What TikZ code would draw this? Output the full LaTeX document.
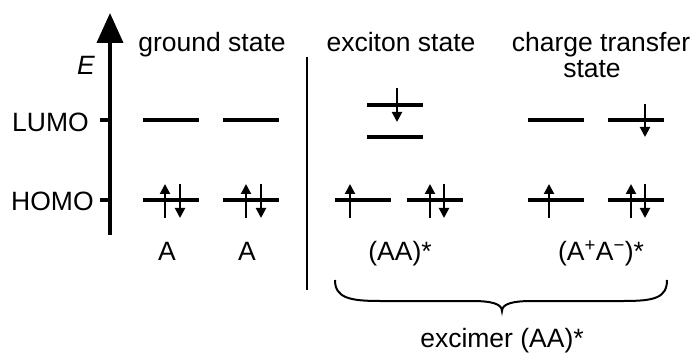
\documentclass[tikz,border=0pt]{standalone}
\usepackage{fontspec}
\setmainfont{Liberation Sans}
\usetikzlibrary{arrows.meta}

\begin{document}
\begin{tikzpicture}[x=1pt, y=-1pt, font=\fontsize{26.5}{30}\selectfont,
    level/.style={line width=4pt},
    spin/.style={line width=2pt, -{Triangle[length=10pt,width=10pt]}},
    lbl/.style={inner sep=0pt}]
    \useasboundingbox (0,0) rectangle (691,358);

    % Energy axis
    \coordinate (axbot) at (110,235);
    \coordinate (axtop) at (110,13);
    \draw[line width=4pt, -{Triangle[length=30pt,width=26pt]}] (axbot) -- (axtop);
    \node[lbl] (e) at (86,65) {\textit{E}};
    \node[lbl, anchor=base west] (lumo) at (12,131.5) {LUMO};
    \node[lbl, anchor=base west] (homo) at (11,211) {HOMO};
    \draw[level] (100,120) -- (110,120);
    \draw[level] (100,200) -- (110,200);

    % Titles
    \node[lbl, anchor=base] (gs) at (212,52) {ground state};
    \node[lbl, anchor=base] (xs) at (401,52) {exciton state};
    \node[lbl, anchor=base] (ct) at (601,52) {charge transfer};
    \node[lbl, anchor=base] (cts) at (592,78) {state};

    % Separator
    \draw[line width=1.5pt] (307,57) -- (307,290);

    % Levels
    \foreach \x/\y in {143/120, 223/120, 143/200, 223/200,
                       367/105, 367/137, 335/200, 407/200,
                       528/120, 608/120, 528/200, 608/200}
        \draw[level] (\x,\y) -- ++(56,0);

    % Spins
    \foreach \x in {165, 246, 350, 430, 549, 631}
        \draw[spin] (\x,218) -- (\x,184);
    \foreach \x in {180, 261, 444, 645}
        \draw[spin] (\x,184) -- (\x,218);
    \draw[spin] (397,88) -- (397,122);
    \draw[spin] (645,104) -- (645,137);

    % Labels
    \node[lbl, anchor=base] (a1) at (167,261) {A};
    \node[lbl, anchor=base] (a2) at (247,261) {A};
    \node[lbl, anchor=base] (aa) at (400,261) {(AA)*};
    \node[lbl, anchor=base] (apam) at (601,261) {(A\textsuperscript{+}A\textsuperscript{−})*};

    % Brace
    \coordinate (bl) at (335,280);
    \coordinate (br) at (667,280);
    \coordinate (btip) at (502,311);
    \draw[line width=2pt] (bl) .. controls (335,298) and (350,301) .. (380,301) -- (472,301)
        .. controls (492,301) and (502,304) .. (btip)
        .. controls (502,304) and (512,301) .. (532,301) -- (624,301)
        .. controls (654,301) and (667,298) .. (br);
    \node[lbl, anchor=base] (exc) at (502,347) {excimer (AA)*};
\end{tikzpicture}
\end{document}
